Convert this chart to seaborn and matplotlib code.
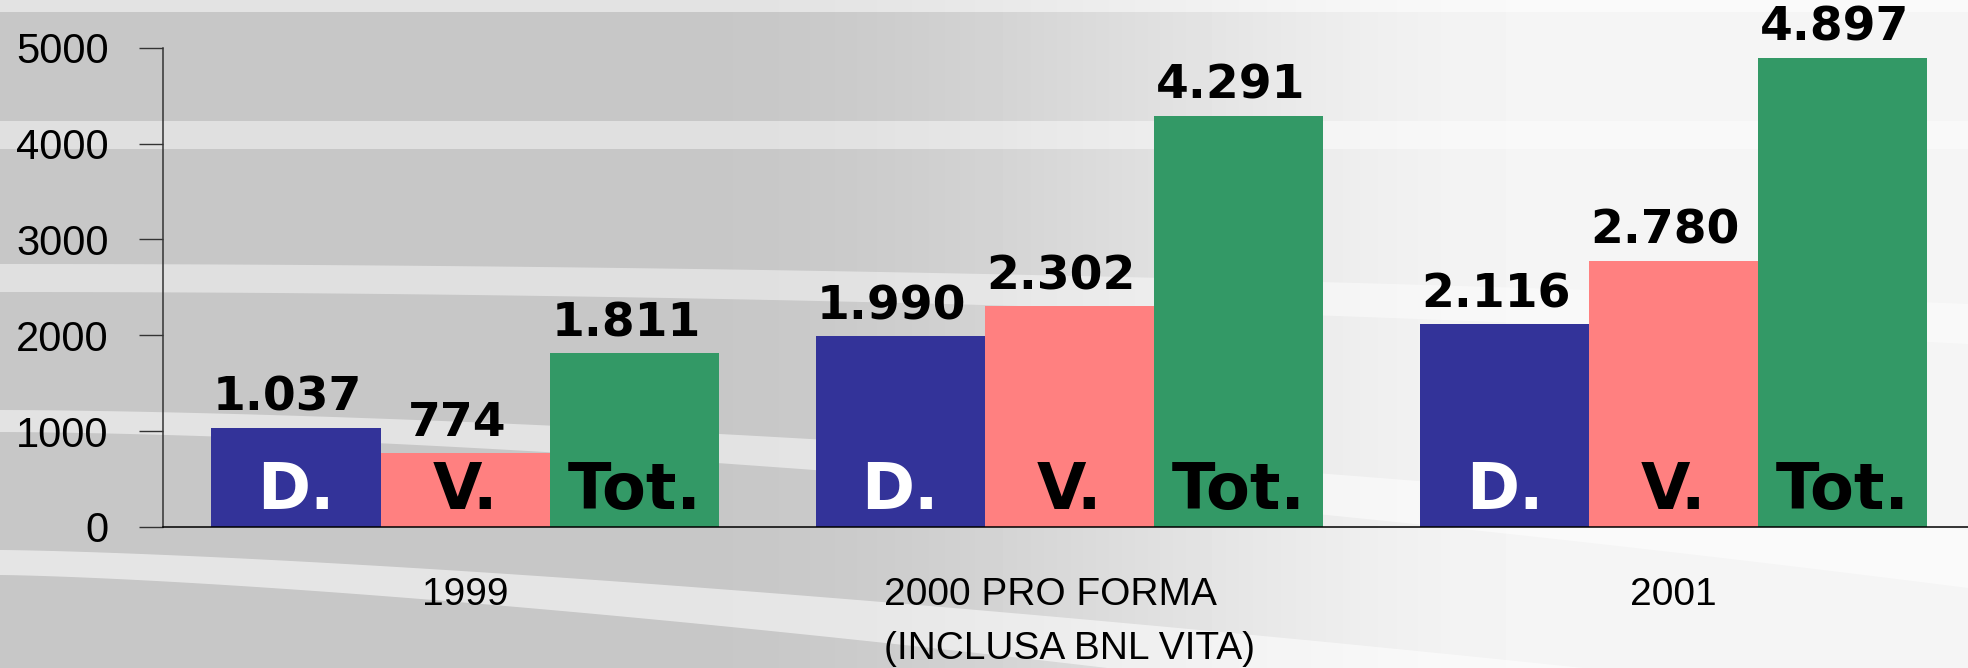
import numpy as np
import pandas as pd
import matplotlib
matplotlib.use("Agg")
import matplotlib.pyplot as plt
import seaborn as sns

# Data
years = ["1999", "2000 PRO FORMA\n(INCLUSA BNL VITA)", "2001"]
series = ["D.", "V.", "Tot."]
danni = [1037, 1990, 2116]
vita = [774, 2302, 2780]
totale = [1811, 4291, 4897]

colors = {"D.": "#333399", "V.": "#FF8080", "Tot.": "#339966"}
inner_text_color = {"D.": "white", "V.": "black", "Tot.": "black"}

df = pd.DataFrame({
    "year": years * 3,
    "serie": ["D."] * 3 + ["V."] * 3 + ["Tot."] * 3,
    "value": danni + vita + totale,
})

sns.set_style("white")
plt.rcParams["font.family"] = ["Liberation Sans", "DejaVu Sans"]
plt.rcParams["text.color"] = "black"
plt.rcParams["xtick.color"] = "black"
plt.rcParams["ytick.color"] = "black"

W, H = 1968, 668
fig = plt.figure(figsize=(W / 100, H / 100), dpi=100)

# Background: grey gradient with soft light swooshes
bg = fig.add_axes([0, 0, 1, 1], zorder=0)
xs = np.linspace(0, 1, 400)
t = np.clip((xs - 0.35) / 0.45, 0, 1)
shade = 0.78 + 0.18 * (t * t * (3 - 2 * t))
grad = np.tile(shade, (50, 1))
bg.imshow(grad, cmap="gray", vmin=0, vmax=1, aspect="auto",
          extent=[0, W, H, 0], interpolation="bilinear")
xx = np.linspace(0, W, 300)
u = xx / W
bands = [
    (0, 12, 0.0, 0.5),
    (121, 149, 0.0, 0.45),
    (264, 292, 40 * u ** 2, 0.45),
    (410, 432, 120 * u ** 1.6, 0.5),
    (550, 575, 160 * u ** 1.4, 0.55),
]
for y0, y1, curve, a in bands:
    bg.fill_between(xx, y0 + curve, y1 + curve * 1.3, color="white", alpha=a, lw=0)
bg.set_xlim(0, W)
bg.set_ylim(H, 0)
bg.axis("off")

# Main chart
ax = fig.add_axes([163 / W, 141 / H, 1 - 163 / W + 0.01, (527 - 47.7) / H], zorder=1)
ax.patch.set_alpha(0)
sns.barplot(data=df, x="year", y="value", hue="serie", hue_order=series,
            palette=colors, width=0.84, saturation=1, ax=ax, legend=False,
            errorbar=None)
ax.set_ylim(0, 5000)
ax.set_xlim(-0.5, 2.52)
ax.set_yticks([0, 1000, 2000, 3000, 4000, 5000])
ax.set_xlabel("")
ax.set_ylabel("")
for s in ["top", "right"]:
    ax.spines[s].set_visible(False)
ax.spines["left"].set_color("#333333")
ax.spines["left"].set_linewidth(1.1)
ax.spines["bottom"].set_color("black")
ax.spines["bottom"].set_linewidth(1.1)
ax.tick_params(axis="y", direction="out", length=17, width=1, color="#333333",
               labelsize=30, pad=22, left=True, labelcolor="black")
ax.tick_params(axis="x", length=0, labelsize=28, pad=36, labelcolor="black")
for lbl in ax.get_xticklabels():
    lbl.set_multialignment("left")
    lbl.set_linespacing(1.65)

for serie, cont in zip(series, ax.containers):
    for patch in cont:
        patch.set_edgecolor("none")
        v = patch.get_height()
        cx = patch.get_x() + patch.get_width() / 2
        ax.annotate(f"{int(round(v)):,}".replace(",", "."), xy=(cx, v),
                    xytext=(-6, 12), textcoords="offset points",
                    ha="center", va="baseline", fontsize=34,
                    fontweight="bold", family="DejaVu Sans", color="black",
                    annotation_clip=False)
        ax.annotate(serie, xy=(cx, 0), xytext=(0, 13), textcoords="offset points",
                    ha="center", va="baseline", fontsize=46, fontweight="bold",
                    family="DejaVu Sans", color=inner_text_color[serie])

fig.savefig("out.png", dpi=100)
